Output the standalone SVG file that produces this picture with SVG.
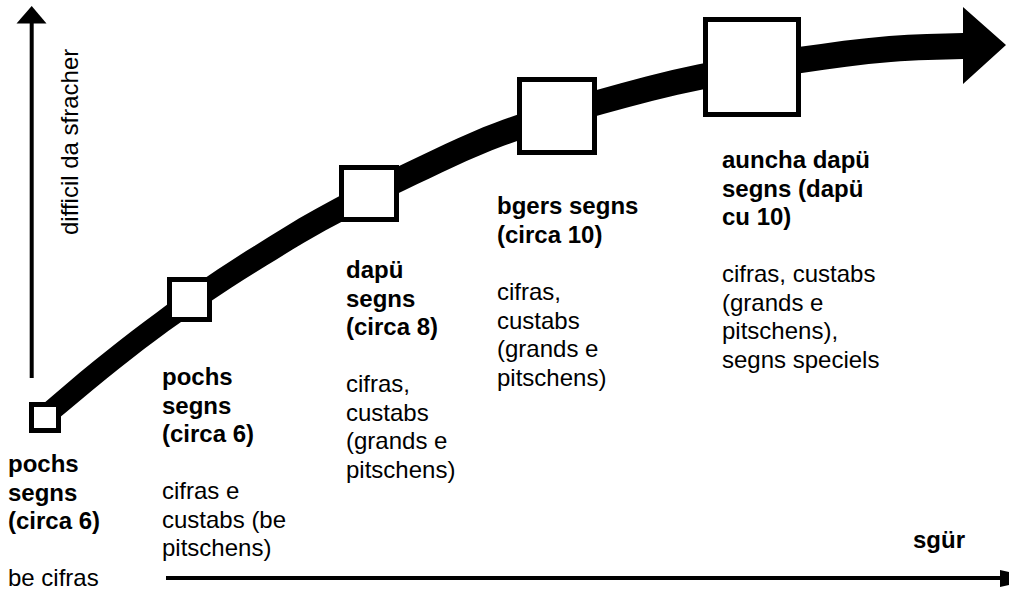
<svg xmlns="http://www.w3.org/2000/svg" width="1009" height="591" viewBox="0 0 1009 591">
<style>
text{font-family:"Liberation Sans",Arial,sans-serif;font-size:24px;fill:#000}
.b{font-weight:bold}
.sq{fill:#fff;stroke:#000;stroke-width:5}
.ax{stroke:#000;stroke-width:4;fill:none}
</style>
<rect width="1009" height="591" fill="#fff"/>
<g id="connectors">
<path id="curve" fill="#000" d="M38.3,407.9 C56.6,392.9 75.0,376.3 93.3,361.6 C110.0,348.2 126.8,334.6 143.5,322.2 C160.2,309.8 177.0,297.1 193.7,285.7 C213.8,272.1 233.8,258.6 253.9,246.2 C274.0,233.7 294.2,220.8 314.3,209.7 C341.2,194.9 368.0,180.7 394.9,168.1 C428.5,152.3 462.1,134.9 495.7,122.5 C529.3,110.1 563.0,99.4 596.6,90 C630.2,80.6 663.9,71.2 697.5,64.5 C731.1,57.8 764.6,51.8 798.2,47.1 C828.5,42.9 858.7,38.4 889,36 C914.3,34.0 939.7,33.8 963,33 L963,7 L1006,45 L963,84 L963,59 C940.6,59.7 915.8,60.0 891,62 C861.3,64.4 831.5,68.7 801.8,72.9 C768.7,77.5 735.6,82.9 702.5,89.5 C669.5,96.1 636.4,104.8 603.4,114 C570.4,123.2 537.3,133.3 504.3,145.5 C471.2,157.7 438.2,174.4 405.1,189.9 C378.6,202.3 352.2,215.7 325.7,230.3 C305.8,241.2 286.0,253.5 266.1,265.8 C246.2,278.2 226.2,290.8 206.3,304.3 C189.7,315.6 173.1,327.5 156.5,339.8 C139.9,352.1 123.3,365.1 106.7,378.4 C88.4,393.1 70.0,409.1 51.7,424.1 Z"/>
<g id="y-axis">
<line class="ax" x1="31.7" y1="378" x2="31.7" y2="20"/>
<polygon points="16.5,23.5 31.7,6 46.5,23.5" fill="#000"/>
</g>
<g id="x-axis">
<line class="ax" x1="166" y1="578" x2="1002" y2="578"/>
<polygon points="1000,570 1009,572 1009,585 1000,587" fill="#000"/>
</g>
</g>
<g id="n1"><rect class="sq" x="31.5" y="404.5" width="27" height="26"/>
<text x="8" y="472" class="b">pochs</text><text x="8" y="500.5" class="b">segns</text><text x="8" y="529" class="b">(circa 6)</text>
<text x="8" y="586">be cifras</text></g>
<g id="n2"><rect class="sq" x="169.5" y="279.5" width="40" height="40"/>
<text x="162" y="385" class="b">pochs</text><text x="162" y="413.5" class="b">segns</text><text x="162" y="442" class="b">(circa 6)</text>
<text x="162" y="499">cifras e</text><text x="162" y="527.5">custabs (be</text><text x="162" y="556">pitschens)</text></g>
<g id="n3"><rect class="sq" x="341.5" y="167.5" width="55" height="52"/>
<text x="346" y="278" class="b">dapü</text><text x="346" y="306.5" class="b">segns</text><text x="346" y="335" class="b">(circa 8)</text>
<text x="346" y="392">cifras,</text><text x="346" y="420.5">custabs</text><text x="346" y="449">(grands e</text><text x="346" y="477.5">pitschens)</text></g>
<g id="n4"><rect class="sq" x="519.5" y="79.5" width="75" height="73"/>
<text x="497" y="214" class="b">bgers segns</text><text x="497" y="242.5" class="b">(circa 10)</text>
<text x="497" y="300">cifras,</text><text x="497" y="328.5">custabs</text><text x="497" y="357">(grands e</text><text x="497" y="385.5">pitschens)</text></g>
<g id="n5"><rect class="sq" x="705.5" y="19.5" width="93" height="95"/>
<text x="722" y="168" class="b">auncha dapü</text><text x="722" y="196.5" class="b">segns (dapü</text><text x="722" y="225" class="b">cu 10)</text>
<text x="722" y="282">cifras, custabs</text><text x="722" y="310.5">(grands e</text><text x="722" y="339">pitschens),</text><text x="722" y="367.5">segns speciels</text></g>
<g id="labels">
<text x="913" y="548" class="b">sgür</text>
<text transform="translate(78,235) rotate(-90)">difficil da sfracher</text>
</g>
</svg>
